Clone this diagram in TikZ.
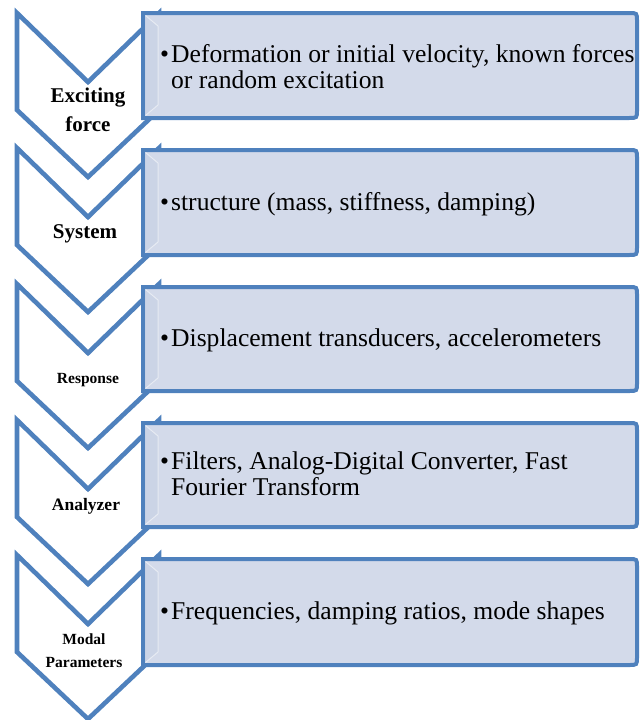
\documentclass[tikz,border=0pt]{standalone}
\usepackage{fontspec}
\setmainfont{Liberation Serif}

\definecolor{chevblue}{RGB}{79,129,189}
\definecolor{boxfill}{RGB}{211,218,234}
\definecolor{bevelfill}{RGB}{203,212,230}

\begin{document}
\begin{tikzpicture}[x=1pt,y=-1pt,
	chevron/.style={draw=chevblue, line width=4.6pt, fill=white, line join=miter},
	listbox/.style={draw=chevblue, line width=4pt, fill=boxfill},
	bevel/.style={draw=white!45!boxfill, line width=1pt, fill=bevelfill},
	steplabel/.style={font=\bfseries, align=center, inner sep=0pt},
	itemtext/.style={anchor=west, align=left, inner sep=0pt, font=\fontsize{25.6}{26}\selectfont}]
	\useasboundingbox (0,0) rectangle (640,720);
	
	% exciting force
	\draw[chevron] (17,13) -- (88,82) -- (159,13) -- (159,110) -- (88,177) -- (17,110) -- cycle;
	\draw[listbox] (143,13) -- (629,13) .. controls (637,13) .. (637,21) -- (637,110) .. controls (637,118) .. (629,118) -- (143,118) -- cycle;
	\draw[bevel] (145.5,15.5) -- (158,26) -- (158,105) -- (145.5,115.5);
	\node[steplabel, font=\bfseries\fontsize{21}{29}\selectfont] (exc) at (88,110) {Exciting\\force};
	\node[itemtext] (excitem) at (160,67)
	{\textbullet\hspace{2pt}Deformation or initial velocity, known forces\\\hphantom{\textbullet\hspace{2pt}}or random excitation};
	
	% system
	\draw[chevron] (17,148) -- (88,217) -- (159,148) -- (159,245) -- (88,312) -- (17,245) -- cycle;
	\draw[listbox] (143,150) -- (629,150) .. controls (637,150) .. (637,158) -- (637,247) .. controls (637,255) .. (629,255) -- (143,255) -- cycle;
	\draw[bevel] (145.5,152.5) -- (158,163) -- (158,242) -- (145.5,252.5);
	\node[steplabel, font=\bfseries\fontsize{21}{25}\selectfont, anchor=base] (sys) at (85,238) {System};
	\node[itemtext] (sysitem) at (160,204)
	{\textbullet\hspace{2pt}structure (mass, stiffness, damping)};
	
	% response
	\draw[chevron] (17,284) -- (88,353) -- (159,284) -- (159,381) -- (88,448) -- (17,381) -- cycle;
	\draw[listbox] (143,287) -- (629,287) .. controls (637,287) .. (637,295) -- (637,383) .. controls (637,391) .. (629,391) -- (143,391) -- cycle;
	\draw[bevel] (145.5,289.5) -- (158,300) -- (158,378) -- (145.5,388.5);
	\node[steplabel, font=\bfseries\fontsize{15.5}{19}\selectfont, anchor=base] (resp) at (88,383) {Response};
	\node[itemtext] (respitem) at (160,340)
	{\textbullet\hspace{2pt}Displacement transducers, accelerometers};
	
	% analyzer
	\draw[chevron] (17,420) -- (88,489) -- (159,420) -- (159,517) -- (88,584) -- (17,517) -- cycle;
	\draw[listbox] (143,423) -- (629,423) .. controls (637,423) .. (637,431) -- (637,519) .. controls (637,527) .. (629,527) -- (143,527) -- cycle;
	\draw[bevel] (145.5,425.5) -- (158,436) -- (158,514) -- (145.5,524.5);
	\node[steplabel, font=\bfseries\fontsize{17.5}{21}\selectfont, anchor=base] (ana) at (86,510) {Analyzer};
	\node[itemtext] (anaitem) at (160,474)
	{\textbullet\hspace{2pt}Filters, Analog-Digital Converter, Fast\\\hphantom{\textbullet\hspace{2pt}}Fourier Transform};
	
	% modal parameters
	\draw[chevron] (17,555) -- (88,624) -- (159,555) -- (159,652) -- (88,719) -- (17,652) -- cycle;
	\draw[listbox] (143,559) -- (629,559) .. controls (637,559) .. (637,567) -- (637,657) .. controls (637,665) .. (629,665) -- (143,665) -- cycle;
	\draw[bevel] (145.5,561.5) -- (158,572) -- (158,652) -- (145.5,662.5);
	\node[steplabel, font=\bfseries\fontsize{15.5}{23}\selectfont] (modal) at (84,651) {Modal\\Parameters};
	\node[itemtext] (modalitem) at (160,613)
	{\textbullet\hspace{2pt}Frequencies, damping ratios, mode shapes};
	
\end{tikzpicture}
\end{document}
